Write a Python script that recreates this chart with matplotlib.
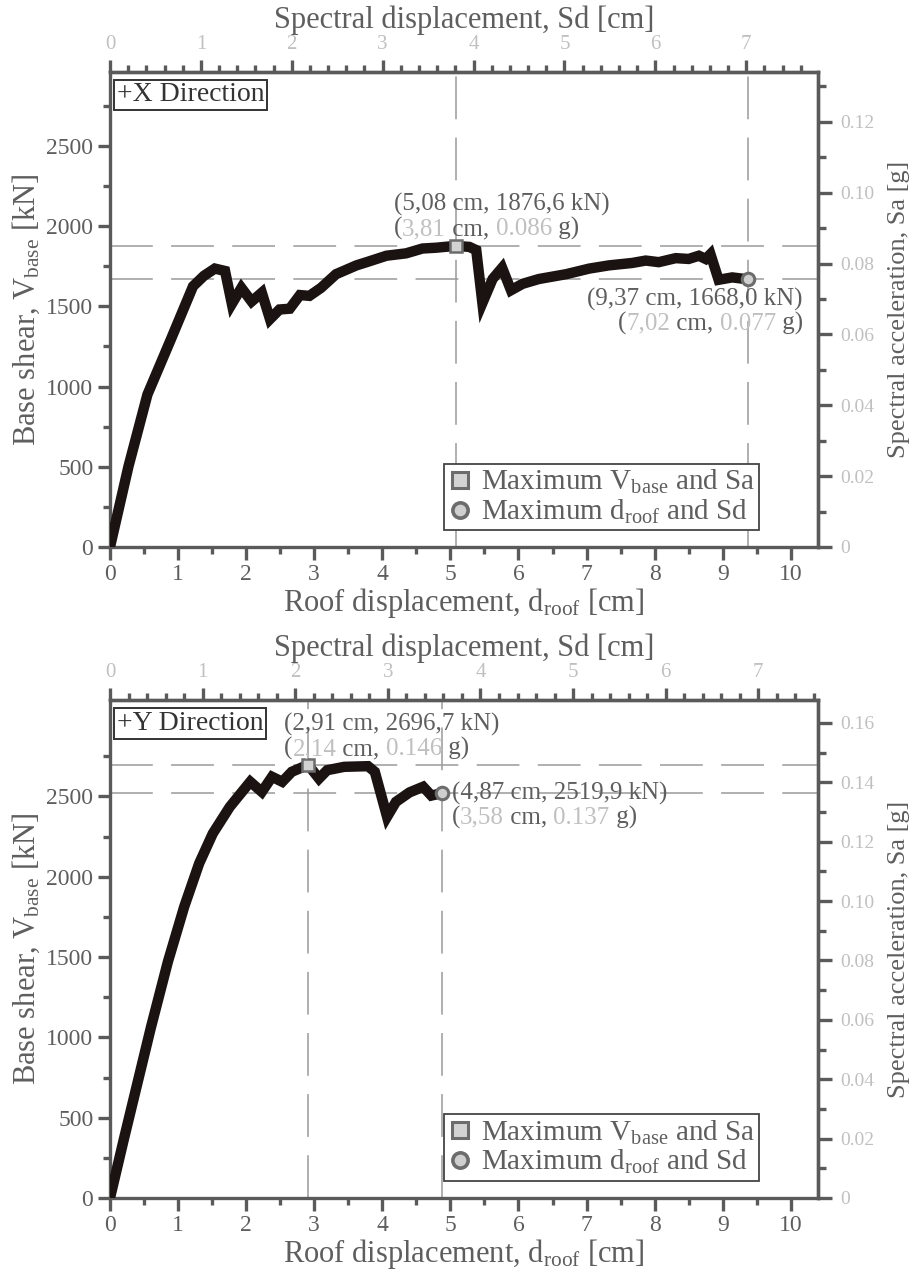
import matplotlib
matplotlib.use("Agg")
from matplotlib import pyplot as plt
from matplotlib.ticker import MultipleLocator, FixedLocator, FuncFormatter
from matplotlib.lines import Line2D

plt.rcParams['font.family'] = ['Liberation Serif', 'DejaVu Serif']
plt.rcParams['mathtext.default'] = 'regular'

# +X direction pushover curve (roof displacement [cm], base shear [kN])
x_droof = [0, 0.27, 0.55, 0.90, 1.22, 1.38, 1.54, 1.69, 1.79, 1.93, 2.08, 2.23, 2.35, 2.49,
           2.64, 2.79, 2.93, 3.10, 3.32, 3.62, 3.77, 4.06, 4.35, 4.59, 4.79, 5.08, 5.28, 5.38,
           5.47, 5.62, 5.76, 5.89, 6.06, 6.30, 6.70, 7.04, 7.33, 7.67, 7.87, 8.06, 8.31, 8.50,
           8.65, 8.75, 8.82, 8.94, 9.14, 9.37]
x_vbase = [0, 500, 950, 1300, 1625, 1690, 1735, 1720, 1515, 1615, 1530, 1585, 1420, 1480,
           1485, 1570, 1565, 1615, 1700, 1755, 1775, 1815, 1830, 1860, 1865, 1876.6, 1870, 1850,
           1520, 1670, 1740, 1600, 1640, 1670, 1700, 1735, 1755, 1770, 1785, 1775, 1800, 1795,
           1815, 1795, 1825, 1665, 1680, 1668.0]

# +Y direction pushover curve
y_droof = [0, 0.20, 0.40, 0.60, 0.85, 1.09, 1.31, 1.51, 1.76, 2.06, 2.23, 2.38, 2.53, 2.67,
           2.91, 3.07, 3.19, 3.44, 3.79, 3.89, 4.07, 4.20, 4.40, 4.60, 4.72, 4.87]
y_vbase = [0, 360, 710, 1060, 1470, 1813, 2083, 2269, 2435, 2591, 2528, 2622, 2591, 2653,
           2696.7, 2611, 2663, 2684, 2688, 2653, 2373, 2466, 2525, 2560, 2505, 2519.9]

# marked points: (d_roof, V_base, Sd, Sa)
x_max_v = (5.08, 1876.6, "3,81", "0.086")
x_max_d = (9.37, 1668.0, "7,02", "0.077")
y_max_v = (2.91, 2696.7, "2,14", "0.146")
y_max_d = (4.87, 2519.9, "3,58", "0.137")

v_ticks = [0, 500, 1000, 1500, 2000, 2500]
v_minor = [250, 750, 1250, 1750, 2250, 2750]

# axis extents: V top, Sa/V factor, Sd/d factor
x_ylim, x_sa_k, x_sd_k = 2960, 4.53e-5, 0.749
y_ylim, y_sa_k, y_sd_k = 3100, 5.41e-5, 0.735

DARK = '#5e5e5e'
LIGHT = '#c0c0c0'
SPINE = '#5a5a5a'
LINE = '#1b1312'
DASH = '#9a9a9a'


def comma(v, n):
    return (('%.' + str(n) + 'f') % v).replace('.', ',')


def chain(ax, xy, offset, pieces, align='left', size=18):
    # draw text pieces of different colours one after another on one line
    if align == 'right':
        pieces = pieces[::-1]
    s, c = pieces[0]
    prev = ax.annotate(s, xy, xytext=offset, textcoords='offset pixels', color=c,
                       ha=align, va='center', fontsize=size, zorder=6)
    for s, c in pieces[1:]:
        if align == 'left':
            prev = ax.annotate(s, xy=(1, 0), xycoords=prev, ha='left', va='bottom',
                               color=c, fontsize=size, zorder=6)
        else:
            prev = ax.annotate(s, xy=(0, 0), xycoords=prev, ha='right', va='bottom',
                               color=c, fontsize=size, zorder=6)


def labels(ax, p, off, align):
    first = '(%s cm, %s kN)' % (comma(p[0], 2), comma(p[1], 1))
    chain(ax, p[:2], off, [(first, DARK)], align=align)
    chain(ax, p[:2], (off[0], off[1] - 24),
          [('(', DARK), (p[2], LIGHT), (' cm, ', DARK), (p[3], LIGHT), (' g)', DARK)],
          align=align)


def panel(ax, droof, vbase, ylim, sa_k, sd_k, pmax, pend, direction, sa_max, off):
    ax.set_xlim(0, 10.4)
    ax.set_ylim(0, ylim)
    for sp in ax.spines.values():
        sp.set_color(SPINE)
        sp.set_linewidth(2.4)

    for p in (pmax, pend):
        ax.axhline(p[1], color=DASH, lw=1.1, ls=(0, (28, 12)), zorder=1)
        ax.axvline(p[0], color=DASH, lw=1.1, ls=(0, (28, 12)), zorder=1)

    ax.plot(droof, vbase, color=LINE, lw=7.5, solid_joinstyle='miter', zorder=3)
    ax.plot(pmax[0], pmax[1], 's', ms=9, mfc='#d3d3d3', mec='#6c6c6c', mew=1.8, zorder=5)
    ax.plot(pend[0], pend[1], 'o', ms=9, mfc='#cfcfcf', mec='#6c6c6c', mew=2.2, zorder=5)

    ax.xaxis.set_major_locator(MultipleLocator(1))
    ax.xaxis.set_minor_locator(MultipleLocator(0.5))
    ax.yaxis.set_major_locator(FixedLocator(v_ticks))
    ax.yaxis.set_minor_locator(FixedLocator(v_minor))
    ax.tick_params(which='both', direction='out', color=SPINE, width=2.4,
                   labelcolor=DARK, labelsize=17, pad=3)
    ax.tick_params(which='major', length=9)
    ax.tick_params(which='minor', length=5)
    ax.set_xlabel('Roof displacement, d$_{roof}$ [cm]', fontsize=22, color=DARK, labelpad=1)
    ax.set_ylabel('Base shear, V$_{base}$ [kN]', fontsize=22, color=DARK, labelpad=3)

    top = ax.secondary_xaxis('top', functions=(lambda d: d * sd_k, lambda s: s / sd_k))
    top.xaxis.set_major_locator(MultipleLocator(1))
    top.xaxis.set_minor_locator(MultipleLocator(0.2))
    top.xaxis.set_major_formatter(FuncFormatter(lambda v, _: '%d' % round(v)))
    top.tick_params(which='both', direction='out', color=SPINE, width=2.4,
                    labelcolor=LIGHT, labelsize=15, pad=4)
    top.tick_params(which='major', length=9)
    top.tick_params(which='minor', length=5)
    top.spines['top'].set_color(SPINE)
    top.spines['top'].set_linewidth(2.4)
    top.set_xlabel('Spectral displacement, Sd [cm]', fontsize=22, color=DARK, labelpad=5)

    right = ax.secondary_yaxis('right', functions=(lambda v: v * sa_k, lambda s: s / sa_k))
    right.yaxis.set_major_locator(MultipleLocator(0.02))
    right.yaxis.set_minor_locator(MultipleLocator(0.01))
    right.yaxis.set_major_formatter(
        FuncFormatter(lambda v, _: '0' if abs(v) < 1e-9 else ('%.2f' % v if v <= sa_max + 1e-9 else '')))
    right.tick_params(which='both', direction='out', color=SPINE, width=2.4,
                      labelcolor=LIGHT, labelsize=14, pad=6)
    right.tick_params(which='major', length=10)
    right.tick_params(which='minor', length=6)
    right.spines['right'].set_color(SPINE)
    right.spines['right'].set_linewidth(2.4)
    right.set_ylabel('Spectral acceleration, Sa [g]', fontsize=19, color=DARK, labelpad=10)

    ax.text(0.01, 0.978, direction, transform=ax.transAxes, ha='left', va='top',
            fontsize=20, color='#333333', zorder=6,
            bbox=dict(boxstyle='square,pad=0.1', fc='white', ec='#333333', lw=1.4))

    handles = [Line2D([], [], ls='', marker='s', ms=11, mfc='#d3d3d3', mec='#6c6c6c', mew=2.2),
               Line2D([], [], ls='', marker='o', ms=11, mfc='#cfcfcf', mec='#6c6c6c', mew=2.6)]
    leg = ax.legend(handles, ['Maximum V$_{base}$ and Sa', 'Maximum d$_{roof}$ and Sd'],
                    loc='lower right', bbox_to_anchor=(0.917, 0.035), borderaxespad=0,
                    fontsize=21, frameon=True, fancybox=False, framealpha=1,
                    edgecolor='#444444', handlelength=0.8, handletextpad=0.3,
                    borderpad=0.15, labelspacing=0.05)
    leg.get_frame().set_linewidth(1.3)
    for t in leg.get_texts():
        t.set_color(DARK)

    labels(ax, pmax, off[0], off[2])
    labels(ax, pend, off[1], off[3])


fig = plt.figure(figsize=(9.13, 12.72), dpi=100)
ax1 = fig.add_axes([110 / 913, 1 - 547 / 1272, 708 / 913, 475 / 1272])
ax2 = fig.add_axes([110 / 913, 1 - 1198 / 1272, 708 / 913, 498 / 1272])

panel(ax1, x_droof, x_vbase, x_ylim, x_sa_k, x_sd_k, x_max_v, x_max_d, '+X Direction', 0.12,
      ((-62, 41), (55, -20), 'left', 'right'))
panel(ax2, y_droof, y_vbase, y_ylim, y_sa_k, y_sd_k, y_max_v, y_max_d, '+Y Direction', 0.16,
      ((-24, 40), (10, 0), 'left', 'left'))

fig.savefig('out.png', dpi=100, facecolor='white')
